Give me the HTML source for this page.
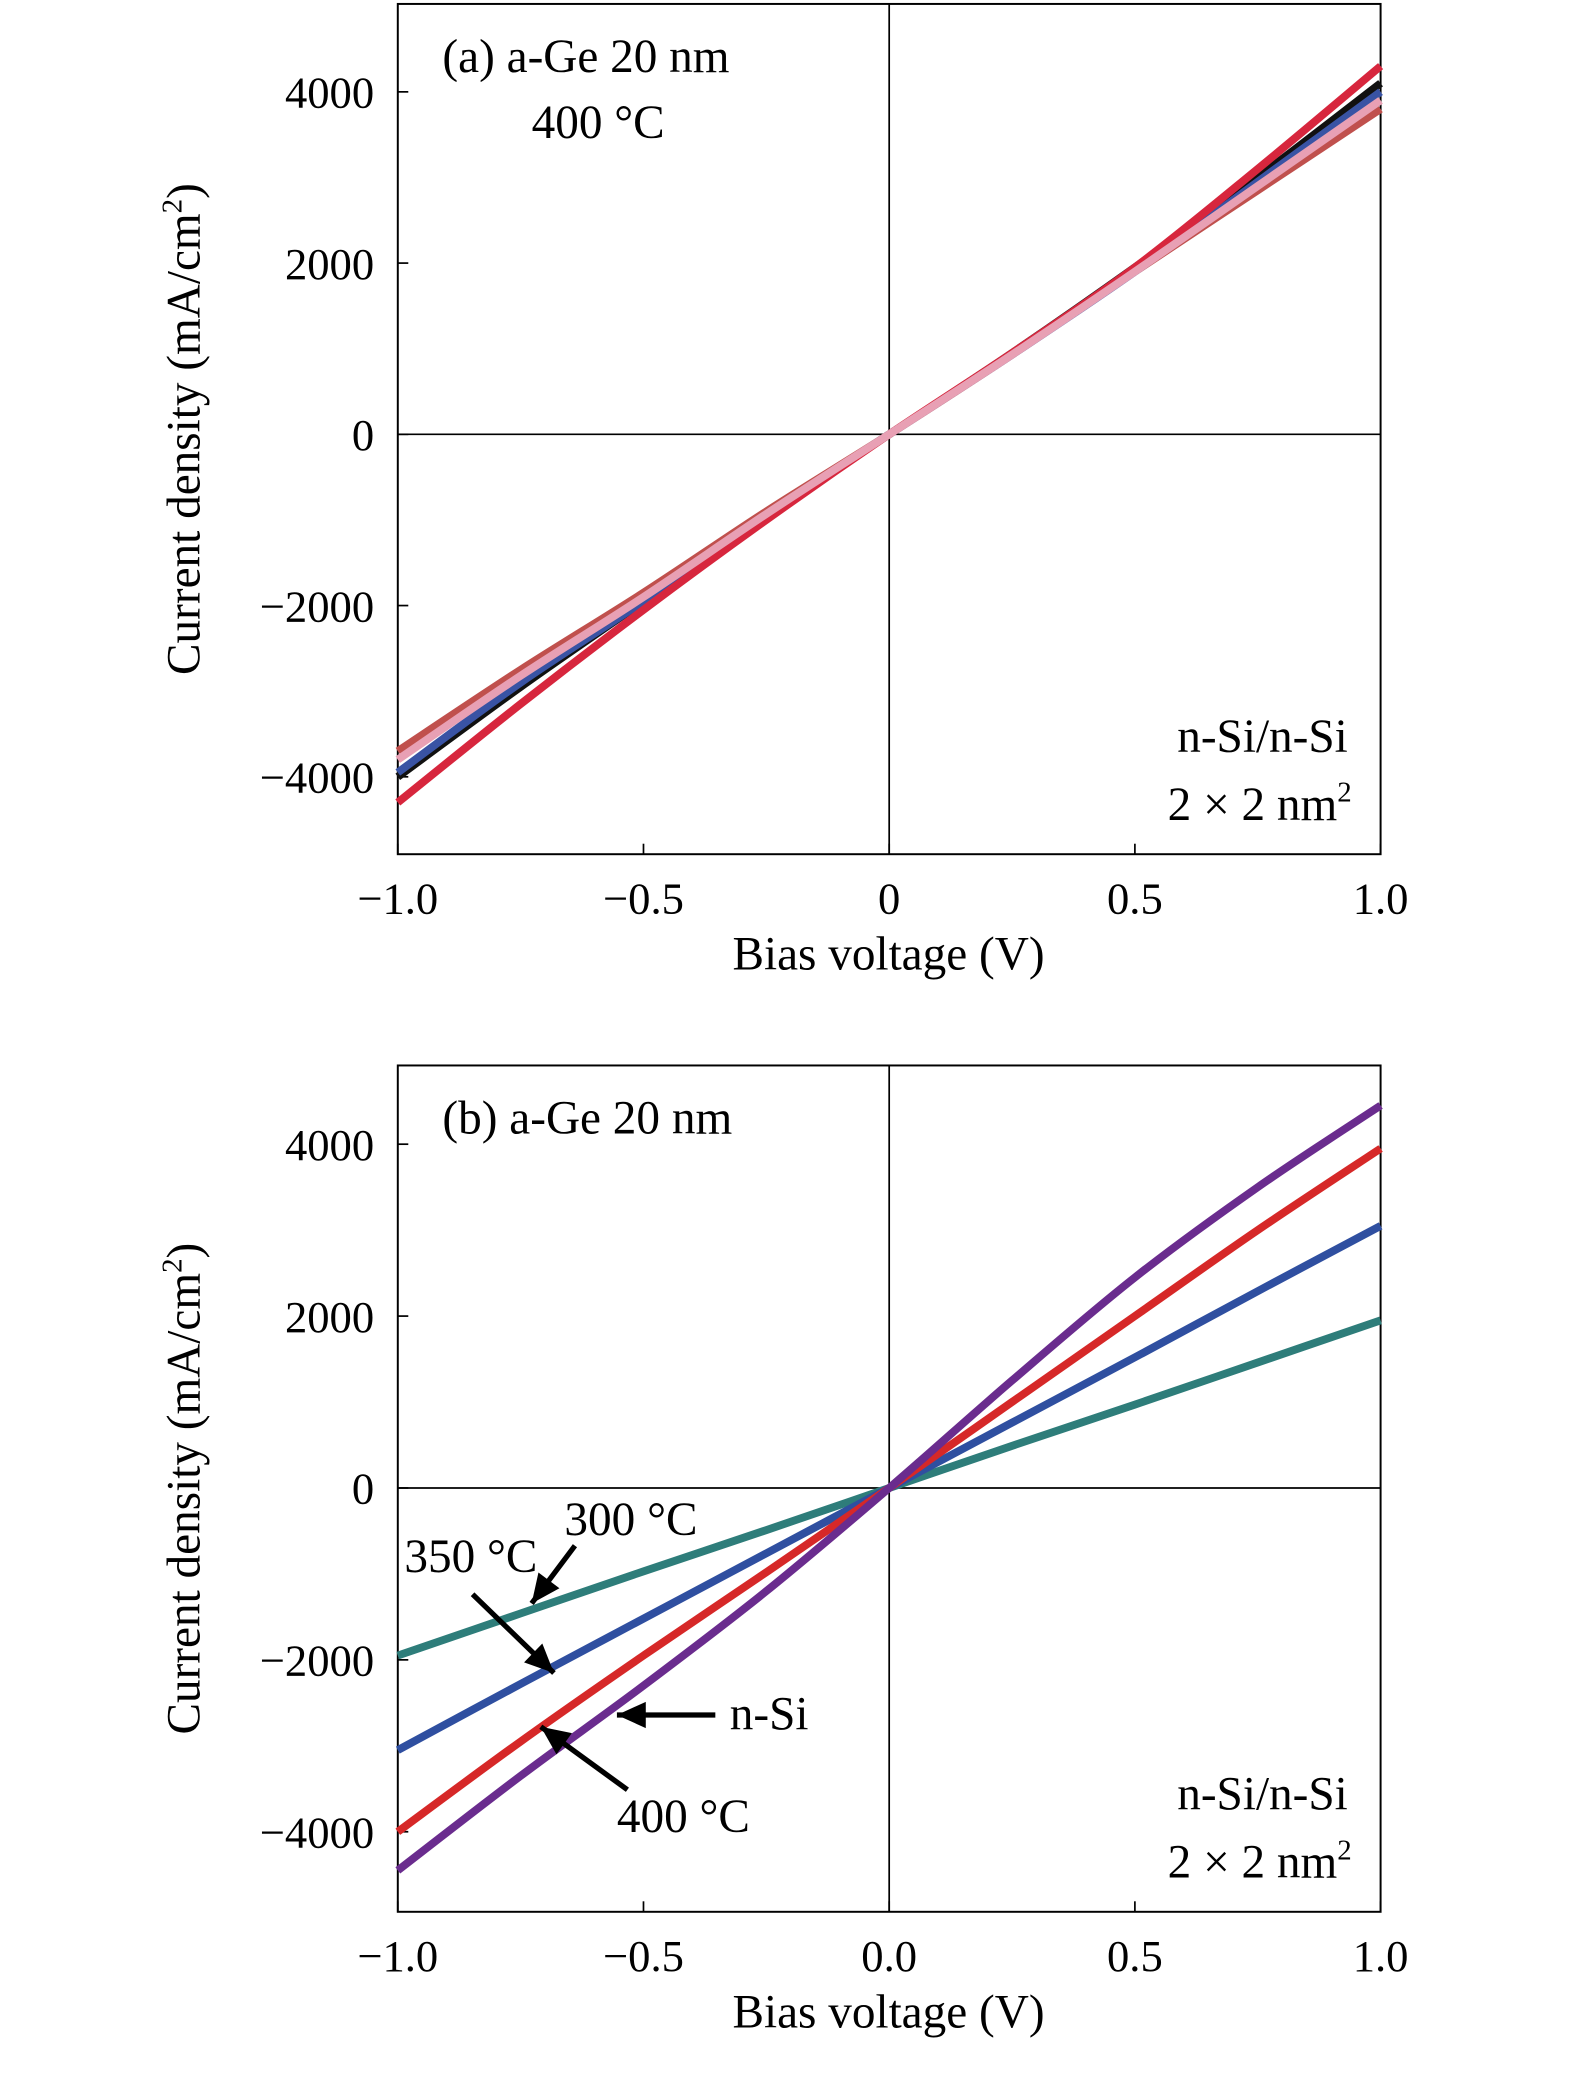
<!DOCTYPE html>
<html><head><meta charset="utf-8"><style>
html,body{margin:0;padding:0;background:#fff;}
svg{display:block;font-family:"Liberation Serif",serif;}
</style></head><body>
<svg id="fig" width="1575" height="2085" viewBox="0 0 1200 1589" xmlns="http://www.w3.org/2000/svg"></svg>
<script>
const xVals=[-1,-0.75,-0.5,-0.25,0,0.25,0.5,0.75,1];
const aRed=[-4300,-3150,-2050,-1000,0,950,1950,3100,4300];
const aBlack=[-4000,-2950,-1950,-950,0,950,1950,3000,4100];
const aBlue=[-3950,-2900,-1950,-950,0,930,1900,2950,4000];
const aBrown=[-3700,-2750,-1850,-900,0,930,1900,2850,3800];
const aPink=[-3800,-2820,-1900,-930,0,930,1900,2900,3900];
const bPurple=[-4450,-3350,-2300,-1200,0,1250,2450,3500,4450];
const bRed=[-4000,-2950,-1950,-980,0,1000,2000,3000,3950];
const bBlue=[-3050,-2280,-1520,-760,0,760,1520,2290,3050];
const bTeal=[-1950,-1460,-970,-490,0,490,970,1460,1950];
const yTicks=[-4000,-2000,0,2000,4000];
const xTicksA=["\u22121.0","\u22120.5","0","0.5","1.0"];
const xTicksB=["\u22121.0","\u22120.5","0.0","0.5","1.0"];
const xTickVals=[-1,-0.5,0,0.5,1];
const svg=document.getElementById('fig');
const NS="http://www.w3.org/2000/svg";
function el(t,a,p){const e=document.createElementNS(NS,t);for(const k in a)e.setAttribute(k,a[k]);(p||svg).appendChild(e);return e;}
function smooth(P){
  let d=`M${P[0][0]},${P[0][1]}`;
  for(let i=0;i<P.length-1;i++){
    const p0=P[Math.max(i-1,0)],p1=P[i],p2=P[i+1],p3=P[Math.min(i+2,P.length-1)];
    const c1=[p1[0]+(p2[0]-p0[0])/6,p1[1]+(p2[1]-p0[1])/6];
    const c2=[p2[0]-(p3[0]-p1[0])/6,p2[1]-(p3[1]-p1[1])/6];
    d+=` C${c1[0]},${c1[1]} ${c2[0]},${c2[1]} ${p2[0]},${p2[1]}`;
  }
  return d;
}
function panel(id,top,bottom,y0,y4000,xt,series,titleLines){
  const L=303,R=1052;
  const sx=v=>L+(v+1)/2*(R-L);
  const sy=v=>y0-(v/4000)*(y0-y4000);
  const g=el('g',{});
  
  
  const box=el('rect',{x:L,y:top,width:R-L,height:bottom-top,fill:'none',stroke:'#000','stroke-width':1.5},g);
  
  el('line',{x1:sx(0),x2:sx(0),y1:top,y2:bottom,stroke:'#000','stroke-width':1.3},g);
  el('line',{x1:L,x2:R,y1:sy(0),y2:sy(0),stroke:'#000','stroke-width':1.3},g);
  yTicks.forEach(v=>{
    el('line',{x1:L,x2:L+8,y1:sy(v),y2:sy(v),stroke:'#000','stroke-width':1.3},g);
    const t=el('text',{x:L-18,y:sy(v)+12,'text-anchor':'end','font-size':34},g);
    t.textContent=(v<0?'\u2212'+(-v):v);
    
  });
  xTickVals.forEach((v,i)=>{
    el('line',{x1:sx(v),x2:sx(v),y1:bottom,y2:bottom-8,stroke:'#000','stroke-width':1.3},g);
    const t=el('text',{x:sx(v),y:bottom+45,'text-anchor':'middle','font-size':34},g);
    t.textContent=xt[i];
    
  });
  series.forEach(s=>{
    const P=xVals.map((x,i)=>[sx(x),sy(s.d[i])]);
    const p=el('path',{d:smooth(P),fill:'none',stroke:s.c,'stroke-width':s.w||6,'stroke-linejoin':'round'},g);
    
  });
  const xl=el('text',{x:677,y:bottom+88,'text-anchor':'middle','font-size':36},g);
  xl.textContent='Bias voltage (V)';
  
  const cy=(top+bottom)/2;
  const yl=el('text',{x:0,y:0,'text-anchor':'middle','font-size':36,transform:`translate(152,${cy}) rotate(-90)`},g);
  yl.innerHTML='Current density (mA/cm<tspan dy="-14" font-size="22">2</tspan><tspan dy="14">)</tspan>';
  
  const tl=el('text',{x:L+34,y:top+52,'font-size':36},g);
  tl.textContent=titleLines;
  
  const n1=el('text',{x:1027,y:bottom-78,'text-anchor':'end','font-size':36},g);
  n1.textContent='n-Si/n-Si';
  
  const n2=el('text',{x:1030,y:bottom-26,'text-anchor':'end','font-size':36},g);
  n2.innerHTML='2 × 2 nm<tspan dy="-14" font-size="22">2</tspan>';
  
  return {sx,sy};
}
panel('a',3,651,331,70,xTicksA,[
  {n:'series-brown',d:aBrown,c:'#c0504d'},
  {n:'series-black',d:aBlack,c:'#111'},
  {n:'series-blue',d:aBlue,c:'#3953a4'},
  {n:'series-red',d:aRed,c:'#d7263d'},
  {n:'series-pink',d:aPink,c:'#e8a0b4'}
],'(a) a-Ge 20 nm');
const t2=el('text',{x:405,y:105,'font-size':36});t2.textContent='400 °C';

panel('b',812,1457,1134,872,xTicksB,[
  {n:'series-300C',d:bTeal,c:'#2e7d7a'},
  {n:'series-350C',d:bBlue,c:'#2f4fa0'},
  {n:'series-400C',d:bRed,c:'#d62828'},
  {n:'series-nSi',d:bPurple,c:'#6a2c8e'}
],'(b) a-Ge 20 nm');
function lbl(x,y,t,n){const e=el('text',{x:x,y:y,'font-size':36});e.textContent=t;}
function arrow(x1,y1,x2,y2,n){
  const a=el('line',{x1,y1,x2,y2,stroke:'#000','stroke-width':4});
  
  const ang=Math.atan2(y2-y1,x2-x1),L=22,W=10;
  const bx=x2-L*Math.cos(ang),by=y2-L*Math.sin(ang);
  el('polygon',{points:`${x2},${y2} ${bx-W*Math.sin(ang)},${by+W*Math.cos(ang)} ${bx+W*Math.sin(ang)},${by-W*Math.cos(ang)}`,fill:'#000'});
}
lbl(430,1170,'300 °C','label-300C');
lbl(308,1198,'350 °C','label-350C');
lbl(556,1318,'n-Si','label-nSi');
lbl(470,1396,'400 °C','label-400C');
arrow(438,1178,405,1222,'arrow-300C');
arrow(360,1215,422,1275,'arrow-350C');
arrow(545,1307,470,1307,'arrow-nSi');
arrow(478,1364,412,1316,'arrow-400C');
</script>
</body></html>
